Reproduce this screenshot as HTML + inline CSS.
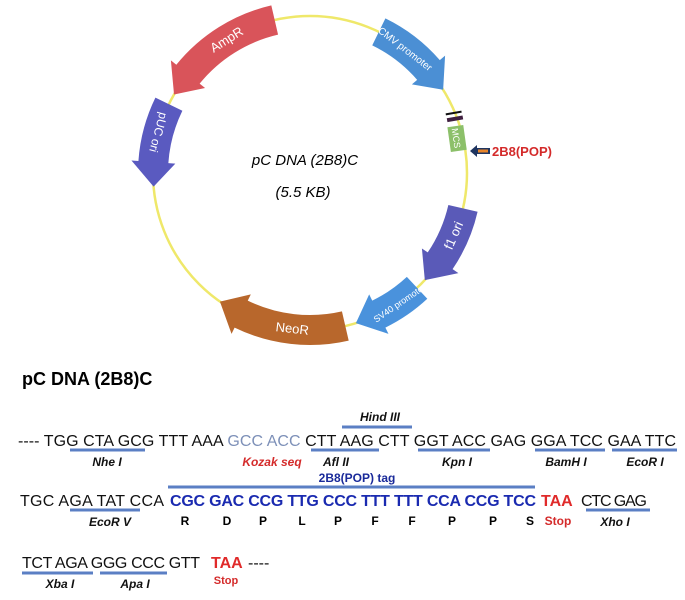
<!DOCTYPE html>
<html><head><meta charset="utf-8"><style>
html,body{margin:0;padding:0;background:#fff;width:685px;height:600px;overflow:hidden}
svg{display:block}
.s{font-family:"Liberation Sans Narrow","Liberation Sans",sans-serif;font-size:16px;fill:#111}
.l{font-family:"Liberation Sans Narrow","Liberation Sans",sans-serif;font-size:12px;font-style:italic;font-weight:bold;fill:#111}
.u{stroke:#5b7fc4;stroke-width:3}
</style></head><body>
<svg id="g" width="685" height="600" viewBox="0 0 685 600" xmlns="http://www.w3.org/2000/svg">
<circle cx="310" cy="173" r="157" fill="none" stroke="#efe86a" stroke-width="2.5"/>
<g id="arrows"></g>
<rect x="449" y="126" width="16" height="25" fill="#8cc06a" transform="rotate(-8 457 138)"/>
<text x="457" y="142" font-family="Liberation Sans Narrow,Liberation Sans,sans-serif" font-size="9" fill="#fff" transform="rotate(82 457 138)" text-anchor="middle">MCS</text>
<rect x="446" y="112" width="16" height="2" fill="#111" transform="rotate(-10 454 115)"/>
<rect x="447" y="117" width="16" height="4" fill="#402040" transform="rotate(-10 454 119)"/>
<path d="M470 151 L477 145 L477 148 L490 148 L490 154 L477 154 L477 157 Z" fill="#1f3560"/>
<rect x="478" y="149.5" width="10" height="3" fill="#e8852a"/>
<text x="492" y="156" font-family="Liberation Sans Narrow,Liberation Sans,sans-serif" font-size="13" font-weight="bold" fill="#d42a2a">2B8(POP)</text>
<text x="305" y="165" text-anchor="middle" font-family="Liberation Sans,sans-serif" font-size="15" font-style="italic">pC DNA (2B8)C</text>
<text x="303" y="197" text-anchor="middle" font-family="Liberation Sans,sans-serif" font-size="15" font-style="italic">(5.5 KB)</text>

<text x="22" y="385" font-family="Liberation Sans,sans-serif" font-size="18" font-weight="bold">pC DNA (2B8)C</text>

<!-- line 1 -->
<text class="l" x="380" y="421" text-anchor="middle">Hind III</text>
<line class="u" x1="342" y1="427" x2="412" y2="427"/>
<text class="s" x="18" y="446" textLength="658" lengthAdjust="spacing">---- TGG CTA GCG TTT AAA <tspan fill="#7d90b8">GCC ACC</tspan> CTT AAG CTT GGT ACC GAG GGA TCC GAA TTC</text>
<line class="u" x1="70" y1="450" x2="145" y2="450"/>
<line class="u" x1="311" y1="450" x2="379" y2="450"/>
<line class="u" x1="418" y1="450" x2="490" y2="450"/>
<line class="u" x1="535" y1="450" x2="605" y2="450"/>
<line class="u" x1="612" y1="450" x2="677" y2="450"/>
<text class="l" x="107" y="466" text-anchor="middle">Nhe I</text>
<text class="l" x="272" y="466" text-anchor="middle" style="fill:#d42a2a">Kozak seq</text>
<text class="l" x="336" y="466" text-anchor="middle">Afl II</text>
<text class="l" x="457" y="466" text-anchor="middle">Kpn I</text>
<text class="l" x="566" y="466" text-anchor="middle">BamH I</text>
<text class="l" x="645" y="466" text-anchor="middle">EcoR I</text>

<!-- line 2 -->
<text x="357" y="482" text-anchor="middle" font-family="Liberation Sans Narrow,Liberation Sans,sans-serif" font-size="12" font-weight="bold" fill="#1a2a9a">2B8(POP) tag</text>
<line class="u" x1="168" y1="487" x2="535" y2="487"/>
<text class="s" x="20" y="506" textLength="144" lengthAdjust="spacing">TGC AGA TAT CCA</text>
<text class="s" x="170" y="506" textLength="366" lengthAdjust="spacing" style="font-weight:bold;fill:#1a2ab0">CGC GAC CCG TTG CCC TTT TTT CCA CCG TCC</text>
<text class="s" x="541" y="506" style="font-weight:bold;fill:#e02a2a">TAA</text>
<text class="s" x="581" y="506" textLength="66" lengthAdjust="spacing">CTC GAG</text>
<line class="u" x1="70" y1="510" x2="140" y2="510"/>
<line class="u" x1="586" y1="510" x2="650" y2="510"/>
<text class="l" x="110" y="526" text-anchor="middle">EcoR V</text>
<g font-family="Liberation Sans Narrow,Liberation Sans,sans-serif" font-size="12" font-weight="bold" text-anchor="middle">
<text x="185" y="525">R</text><text x="227" y="525">D</text><text x="263" y="525">P</text><text x="302" y="525">L</text><text x="338" y="525">P</text><text x="375" y="525">F</text><text x="412" y="525">F</text><text x="452" y="525">P</text><text x="493" y="525">P</text><text x="530" y="525">S</text>
<text x="558" y="525" fill="#d42a2a">Stop</text></g>
<text class="l" x="615" y="526" text-anchor="middle">Xho I</text>

<!-- line 3 -->
<text class="s" x="22" y="568" textLength="178" lengthAdjust="spacing">TCT AGA GGG CCC GTT</text>
<text class="s" x="211" y="568" style="font-weight:bold;fill:#e02a2a">TAA</text>
<text class="s" x="248" y="568">----</text>
<line class="u" x1="22" y1="573" x2="93" y2="573"/>
<line class="u" x1="100" y1="573" x2="167" y2="573"/>
<text class="l" x="60" y="588" text-anchor="middle">Xba I</text>
<text class="l" x="135" y="588" text-anchor="middle">Apa I</text>
<text x="226" y="584" text-anchor="middle" font-family="Liberation Sans Narrow,Liberation Sans,sans-serif" font-size="11" font-weight="bold" fill="#d42a2a">Stop</text>
</svg>
<script>
(function(){
var cx=310,cy=173,r=157,w=30,NS="http://www.w3.org/2000/svg";
function P(a,rr){var t=a*Math.PI/180;return [cx+rr*Math.sin(t),cy-rr*Math.cos(t)];}
function arrow(a1,a2,col,label,fs,flip){
 var dir=a2>a1?1:-1, head=9*dir, ab=a2-head;
 var ro=r+w/2,ri=r-w/2,ho=r+w/2+7,hi=r-w/2-7;
 var s1=P(a1,ro),b1=P(ab,ro),h1=P(ab,ho),t=P(a2,r),h2=P(ab,hi),b2=P(ab,ri),s2=P(a1,ri);
 var sw1=dir>0?1:0,sw2=dir>0?0:1, lg=Math.abs(ab-a1)>180?1:0;
 var d="M"+s1+" A"+ro+" "+ro+" 0 "+lg+" "+sw1+" "+b1+" L"+h1+" L"+t+" L"+h2+" L"+b2+" A"+ri+" "+ri+" 0 "+lg+" "+sw2+" "+s2+" Z";
 var p=document.createElementNS(NS,"path");p.setAttribute("d",d);p.setAttribute("fill",col);
 var g=document.getElementById("arrows");g.appendChild(p);
 var m=(a1+ab)/2,c=P(m,r);
 var ang=m; if(m>90&&m<270) ang=m-180;
 if(flip) ang=m+180;
 var tx=document.createElementNS(NS,"text");
 tx.setAttribute("x",c[0]);tx.setAttribute("y",c[1]+4);tx.setAttribute("text-anchor","middle");
 tx.setAttribute("font-family","Liberation Sans Narrow,Liberation Sans,sans-serif");
 tx.setAttribute("font-size",fs||12);tx.setAttribute("fill","#fff");
 tx.setAttribute("transform","rotate("+ang+" "+c[0]+" "+c[1]+")");
 tx.textContent=label;g.appendChild(tx);
}
arrow(-13,-60,"#d9545a","AmpR",13);
arrow(26,58,"#4b8fd4","CMV promoter",10);
arrow(103,133,"#5a5ab8","f1 ori",13);
arrow(137,163,"#4a92dc","SV40 promoter",9);
arrow(167,215,"#b8672c","NeoR",13);
arrow(-64,-95,"#5a5ac0","pUC ori",12,true);
})();
</script>
</body></html>
